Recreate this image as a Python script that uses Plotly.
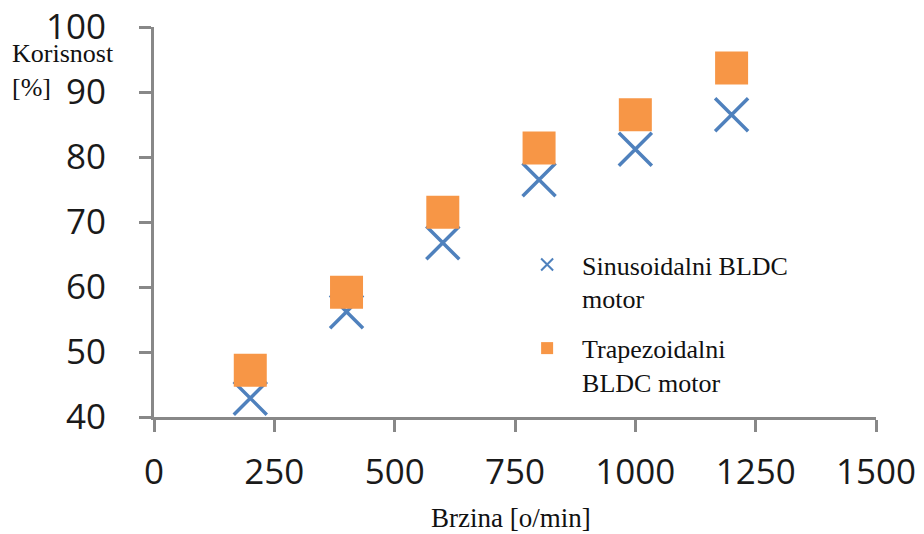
import plotly.graph_objects as go

speed = [200, 400, 600, 800, 1000, 1200]
eff_sinus = [42.9, 56.2, 66.8, 76.5, 81.2, 86.5]
eff_trap = [47.2, 59.2, 71.5, 81.4, 86.5, 93.7]
x_ticks = [0, 250, 500, 750, 1000, 1250, 1500]
y_ticks = [40, 50, 60, 70, 80, 90, 100]

serif = "Liberation Serif, Times New Roman, serif"
sans = "Open Sans, DejaVu Sans, sans-serif"

fig = go.Figure()
fig.add_trace(go.Scatter(
    x=speed, y=eff_sinus, mode="markers", name="Sinusoidalni BLDC<br>motor",
    legendgroup="sin",
    marker=dict(symbol="x-thin", size=33, color="#4F81BD",
                line=dict(color="#4F81BD", width=3.5)),
))
fig.add_trace(go.Scatter(
    x=speed, y=eff_trap, mode="markers", name="Trapezoidalni<br>BLDC motor",
    legendgroup="trap",
    marker=dict(symbol="square", size=33, color="#F79646", line=dict(width=0)),
))

axis_common = dict(
    showgrid=False, zeroline=False, showline=True, linecolor="#888888", linewidth=3,
    ticks="outside", ticklen=12, tickwidth=3, tickcolor="#888888", automargin=False,
    ticklabeloverflow="allow",
    tickfont=dict(family=sans, size=35, color="#1a1a1a"),
)
fig.update_xaxes(range=[0, 1500], tickvals=x_ticks, ticklabelstandoff=10, **axis_common)
fig.update_yaxes(range=[40, 100], tickvals=y_ticks, ticklabelstandoff=26, **axis_common)

fig.add_annotation(text="Korisnost<br>[%]", xref="paper", yref="paper", x=-0.199, y=0.888,
                   xanchor="left", yanchor="middle", showarrow=False, align="left",
                   font=dict(family=serif, size=26, color="#111111"))
fig.add_annotation(text="Brzina [o/min]", xref="paper", yref="paper", x=0.494, y=-0.26,
                   xanchor="center", yanchor="middle", showarrow=False,
                   font=dict(family=serif, size=27, color="#111111"))

# page body adds an 8px offset; size the figure to compensate
fig.update_layout(
    width=916, height=526,
    margin=dict(l=146, r=48, t=19, b=117, autoexpand=False),
    paper_bgcolor="white", plot_bgcolor="white",
    showlegend=True,
    legend=dict(x=0.496, y=0.451, xanchor="left", yanchor="top", bgcolor="rgba(0,0,0,0)",
                font=dict(family=serif, size=26, color="#111111"),
                itemsizing="constant", itemwidth=60, valign="top", tracegroupgap=13),
)
fig.write_html("out.html")
